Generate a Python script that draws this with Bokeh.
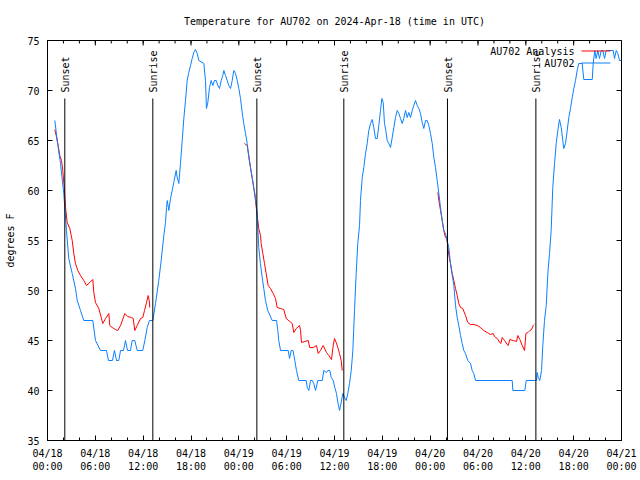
import math
from bokeh.plotting import figure
from bokeh.models import FixedTicker, Range1d
from bokeh.core.properties import value
from bokeh.embed import file_html
from bokeh.resources import INLINE

# ---------------- data (hours since 2024-04-18 00:00 UTC) ----------------
obs_hours = [0.92, 1.22, 1.63, 2.04, 2.38, 2.67, 3.10, 3.51, 3.73, 4.14,
             4.55, 5.68, 6.02, 6.65, 7.40, 7.65, 8.15, 8.40, 8.66, 8.94,
             9.16, 9.53, 9.78, 10.04, 10.41, 10.62, 10.95, 11.25, 11.95, 12.21,
             12.51, 12.79, 13.21, 13.55, 13.96, 14.26, 14.59, 14.80, 14.93, 15.02,
             15.22, 15.43, 15.64, 15.84, 16.14, 16.27, 16.47, 16.68, 16.90, 17.10,
             17.31, 17.52, 17.72, 17.94, 18.15, 18.35, 18.56, 18.78, 18.98, 19.61,
             19.82, 19.94, 20.11, 20.32, 20.53, 20.74, 20.95, 21.16, 21.36, 21.58,
             21.79, 21.99, 22.12, 22.33, 22.54, 22.74, 22.96, 23.17, 23.37, 23.58,
             23.80, 24.00, 24.21, 24.42, 24.62, 24.84, 25.05, 25.25, 25.46, 25.68,
             25.88, 26.09, 26.30, 26.50, 26.71, 26.93, 27.13, 27.34, 27.63, 28.19,
             28.73, 28.89, 29.01, 29.23, 30.19, 30.36, 30.57, 30.80, 31.02, 31.23,
             31.52, 32.45, 32.58, 32.78, 32.99, 33.20, 33.40, 33.62, 33.91, 34.46,
             34.66, 35.00, 35.16, 35.41, 35.59, 35.84, 36.04, 36.25, 36.42, 36.63,
             36.84, 37.04, 37.26, 37.47, 37.67, 37.88, 38.10, 38.30, 38.51, 38.72,
             38.92, 39.14, 39.26, 39.48, 39.68, 39.89, 40.10, 40.30, 40.52, 40.73,
             40.93, 41.14, 41.36, 41.56, 41.77, 41.94, 42.11, 42.27, 42.44, 42.61,
             42.81, 43.03, 43.24, 43.44, 43.65, 43.87, 44.07, 44.28, 44.49, 44.69,
             44.91, 45.12, 45.32, 45.53, 45.75, 45.95, 46.16, 46.38, 46.58, 46.79,
             47.00, 47.20, 47.42, 47.63, 47.83, 48.04, 48.26, 48.46, 48.67, 48.88,
             49.09, 49.30, 49.51, 49.71, 49.92, 50.34, 50.55, 50.77, 50.97, 51.18,
             51.39, 51.59, 51.81, 52.02, 52.22, 52.43, 52.72, 53.06, 53.27, 53.47,
             53.69, 58.29, 58.37, 59.87, 60.05, 61.34, 61.43, 61.55, 61.75, 61.97,
             62.13, 62.34, 62.56, 62.76, 62.97, 63.18, 63.38, 63.60, 63.81, 64.01,
             64.22, 64.44, 64.64, 64.76, 64.98, 65.19, 65.39, 65.60, 65.82, 66.02,
             66.23, 66.44, 66.64, 67.07, 67.27, 68.33, 68.45, 68.65, 68.82, 69.03,
             69.24, 69.46, 69.66, 69.87, 70.08, 70.96, 71.12, 71.34, 71.54, 71.76,
             71.97]
obs_temp = [67, 65, 62.7, 59.7, 56, 53.2, 51.7, 50.2, 49, 48,
            47, 47, 45, 44, 44, 43, 43, 44, 43, 43,
            44, 44, 45, 44, 44, 45, 45, 44, 44, 45,
            46.3, 47, 47, 48.7, 51, 53, 55.5, 56.8, 58.3, 59,
            58, 59.2, 60, 60.8, 62, 61.3, 60.7, 62.7, 65, 67.2,
            69, 71, 71.8, 72.5, 73.2, 73.8, 74.1, 73.7, 73, 72.7,
            71, 68.2, 68.8, 70.3, 71, 70.5, 71, 71, 70.5, 70.2,
            71, 71.5, 72, 71.5, 71, 70.5, 70.2, 71, 72, 71.7,
            71, 70.2, 69.2, 67.8, 66.7, 65.7, 64.7, 63.3, 62.3, 61.3,
            60.3, 59.3, 57.7, 54.3, 52.7, 51.3, 50.2, 49, 48, 47,
            47, 46, 45, 44, 44, 43.2, 44, 44, 43, 42,
            41, 41, 40.3, 40, 41, 41, 40.7, 40, 41, 41,
            42, 41.8, 42, 42, 41.3, 41, 40.3, 39.7, 38.8, 38,
            38.8, 39.7, 39.3, 39, 39.7, 40.7, 42, 44, 48, 51.7,
            54.7, 56.5, 59, 61.3, 62.3, 63.7, 64.7, 66, 66.7, 67.1,
            66.3, 65.2, 65.2, 66.5, 68, 69.2, 68.8, 66.7, 66, 65,
            64.7, 64.3, 65.3, 66.3, 67.3, 68, 67.7, 67.2, 66.7, 67.2,
            68, 67.3, 67.8, 67.3, 68, 68.5, 69, 68.5, 68.2, 67.7,
            66.8, 66.2, 67, 67, 66.5, 65.7, 64.7, 63.3, 62.3, 61,
            59.7, 58.3, 57, 56, 55.7, 54.3, 52.7, 51.5, 50.5, 48.5,
            47.3, 46.5, 45.5, 44.7, 44, 43.7, 43, 42.7, 42, 41.7,
            41, 41, 40, 40, 41, 41, 41.8, 41.3, 41, 42,
            44.5, 47, 48.5, 51.7, 53.7, 56, 60.3, 62.7, 64.7, 66,
            67.1, 66.3, 65, 64.2, 64.7, 66, 67.3, 68.2, 69.3, 70.2,
            71, 72, 72.7, 72.7, 71.1, 71.1, 72.7, 74, 73.2, 74,
            73.2, 74, 74, 73.2, 74, 74, 73.2, 74, 73.7, 73,
            73]

ana1_hours = [0.92, 1.09, 1.34, 1.54, 1.76, 1.92, 2.13, 2.26, 2.47, 2.80,
              3.10, 3.30, 3.51, 3.80, 4.14, 4.55, 4.89, 5.31, 5.68, 5.81,
              6.02, 6.44, 6.74, 6.94, 7.28, 7.69, 7.81, 8.12, 8.53, 8.82,
              9.16, 9.70, 10.07, 10.50, 10.75, 10.95, 11.25, 11.67, 11.95, 12.17,
              12.42, 12.63, 12.76, 12.83]
ana1_temp = [66.1, 65.5, 64.5, 63.5, 63, 62, 60, 58.3, 56.8, 56.2,
             55, 53.7, 52.7, 52, 51.5, 51, 50.5, 50.8, 51.1, 49.8,
             48.8, 48.2, 47.3, 46.7, 47.2, 47.7, 46.5, 46.3, 46.1, 46,
             46.5, 47.7, 47.4, 47.3, 47.2, 46, 46.5, 47.2, 47.3, 48,
             48.8, 49.5, 49, 48.3]
ana2_hours = [24.71, 25.05, 25.25, 25.46, 25.68, 25.88, 26.09, 26.30, 26.50, 26.72,
              26.80, 27.01, 27.22, 27.43, 27.68, 27.97, 28.31, 28.60, 28.81, 29.23,
              29.64, 29.94, 30.39, 30.69, 30.90, 31.20, 31.61, 31.74, 31.86, 32.28,
              32.70, 32.90, 33.33, 33.74, 33.96, 34.24, 34.58, 35.00, 35.29, 35.62,
              35.84, 36.00, 36.21, 36.42, 36.63, 36.84, 36.97]
ana2_temp = [64.7, 64.5, 63.5, 62.3, 61.2, 60.2, 59, 57.5, 56.2, 55.5,
             54.7, 53.7, 52.7, 51.7, 50.5, 50.2, 49.7, 49.2, 48.3, 48.2,
             48.1, 47.2, 46.9, 46.7, 45.8, 46.2, 46.5, 46, 44.8, 44.9,
             45, 44.3, 44.3, 44.5, 43.7, 44, 44.5, 43.8, 43.5, 43.1,
             44.5, 45.2, 44.8, 44.3, 43.7, 43, 42]
ana3_hours = [48.96, 49.09, 49.30, 49.51, 49.71, 49.92, 50.05, 50.21, 50.34, 50.55,
              50.77, 50.97, 51.18, 51.39, 51.59, 51.81, 52.09, 52.43, 52.72, 53.06,
              53.47, 53.90, 54.31, 54.73, 55.15, 55.57, 55.91, 56.07, 56.41, 56.74,
              56.86, 57.04, 57.33, 57.66, 57.79, 57.99, 58.42, 58.83, 59.00, 59.25,
              59.55, 59.84, 60.01, 60.26, 60.51, 60.71, 60.93, 61.05]
ana3_temp = [59.8, 59, 58, 57, 56, 55.3, 55.3, 54.5, 53.5, 52.7,
             51.7, 51, 50.2, 49.5, 48.7, 48.3, 48.2, 47.5, 46.8, 46.6,
             46.6, 46.5, 46.3, 46, 45.8, 45.6, 45.7, 45.4, 45.2, 44.8,
             44.7, 45.3, 45, 44.6, 44.5, 45.1, 45, 44.9, 45.5, 45.1,
             44.5, 44, 45.7, 45.8, 46, 46.1, 46.5, 46.6]

sun_hours = [2.17, 13.21, 26.26, 37.17, 50.17, 61.26]
sun_labels = ["Sunset", "Sunrise", "Sunset", "Sunrise", "Sunset", "Sunrise"]

x_tick_hours = [0, 6, 12, 18, 24, 30, 36, 42, 48, 54, 60, 66, 72]
x_tick_labels = ["04/18\n00:00", "04/18\n06:00", "04/18\n12:00", "04/18\n18:00",
                 "04/19\n00:00", "04/19\n06:00", "04/19\n12:00", "04/19\n18:00",
                 "04/20\n00:00", "04/20\n06:00", "04/20\n12:00", "04/20\n18:00",
                 "04/21\n00:00"]
x_minor_hours = list(range(0, 73, 2))
y_ticks = [35, 40, 45, 50, 55, 60, 65, 70, 75]

series_names = ["AU702 Analysis", "AU702"]
# ------------------------------------------------------------------------

FONT = "DejaVu Sans Mono"
FS = "10px"
RED = "#ff0000"
BLUE = "#0a80ff"
X0, X1 = 0, 72
Y0, Y1 = 35, 75

p = figure(width=640, height=480,
           x_range=Range1d(X0, X1), y_range=Range1d(Y0, Y1),
           output_backend="svg", toolbar_location=None,
           min_border_left=47, min_border_right=19,
           min_border_top=40, min_border_bottom=40)
p.xgrid.visible = False
p.ygrid.visible = False
p.outline_line_color = "black"
p.outline_line_width = 1
p.background_fill_color = "white"
p.border_fill_color = "white"

p.title.text = "Temperature for AU702 on 2024-Apr-18 (time in UTC)"
p.title.align = "center"
p.title.text_font = FONT
p.title.text_font_size = FS
p.title.text_font_style = "normal"
p.title.text_color = "black"
p.title.standoff = 27


def style_axis(ax):
    ax.axis_line_color = "black"
    ax.major_tick_in = 5
    ax.major_tick_out = 0
    ax.minor_tick_in = 3
    ax.minor_tick_out = 0
    ax.major_tick_line_color = "black"
    ax.minor_tick_line_color = "black"
    ax.major_label_text_font = FONT
    ax.major_label_text_font_size = FS
    ax.major_label_text_color = "black"


xa = p.xaxis[0]
xa.ticker = FixedTicker(ticks=x_tick_hours, minor_ticks=x_minor_hours)
xa.major_label_overrides = {h: lbl for h, lbl in zip(x_tick_hours, x_tick_labels)}
style_axis(xa)
xa.major_label_standoff = 7

ya = p.yaxis[0]
ya.ticker = FixedTicker(ticks=y_ticks, minor_ticks=[])
style_axis(ya)
ya.major_label_standoff = 8
ya.axis_label = "degrees F"
ya.axis_label_text_font = FONT
ya.axis_label_text_font_size = FS
ya.axis_label_text_font_style = "normal"
ya.axis_label_text_color = "black"
ya.axis_label_standoff = 8

# mirrored ticks on top and right edges (clipped dash markers -> inward half)
p.scatter(x=x_tick_hours, y=[Y1] * len(x_tick_hours), marker="dash",
          size=10, angle=math.pi / 2, line_color="black", line_width=1)
p.scatter(x=x_minor_hours, y=[Y1] * len(x_minor_hours), marker="dash",
          size=6, angle=math.pi / 2, line_color="black", line_width=1)
p.scatter(x=[X1] * len(y_ticks), y=y_ticks, marker="dash",
          size=10, line_color="black", line_width=1)

# data lines
p.multi_line(xs=[ana1_hours, ana2_hours, ana3_hours],
             ys=[ana1_temp, ana2_temp, ana3_temp],
             line_color=RED, line_width=1)
p.line(obs_hours, obs_temp, line_color=BLUE, line_width=1)

# sunrise / sunset markers
SUN_LINE_TOP = 69.2
SUN_TEXT_Y = 69.8
p.segment(x0=sun_hours, y0=[Y0] * len(sun_hours), x1=sun_hours,
          y1=[SUN_LINE_TOP] * len(sun_hours), line_color="black", line_width=1)
p.text(x=sun_hours, y=[SUN_TEXT_Y] * len(sun_hours), text=sun_labels,
       angle=math.pi / 2, text_align="left", text_baseline="middle",
       x_offset=1, text_font=value(FONT), text_font_size=FS, text_color="black")

# gnuplot-style key (text then sample line)
KEY_TEXT_X = 66.1
KEY_X0, KEY_X1 = 66.98, 70.6
KEY_Y = [73.95, 72.75]
p.text(x=[KEY_TEXT_X] * 2, y=KEY_Y, text=series_names, text_align="right",
       text_baseline="middle", text_font=value(FONT), text_font_size=FS,
       text_color="black")
p.segment(x0=[KEY_X0] * 2, y0=KEY_Y, x1=[KEY_X1] * 2, y1=KEY_Y,
          line_color=[RED, BLUE], line_width=1)

open("out.html", "w").write(file_html(p, INLINE))
